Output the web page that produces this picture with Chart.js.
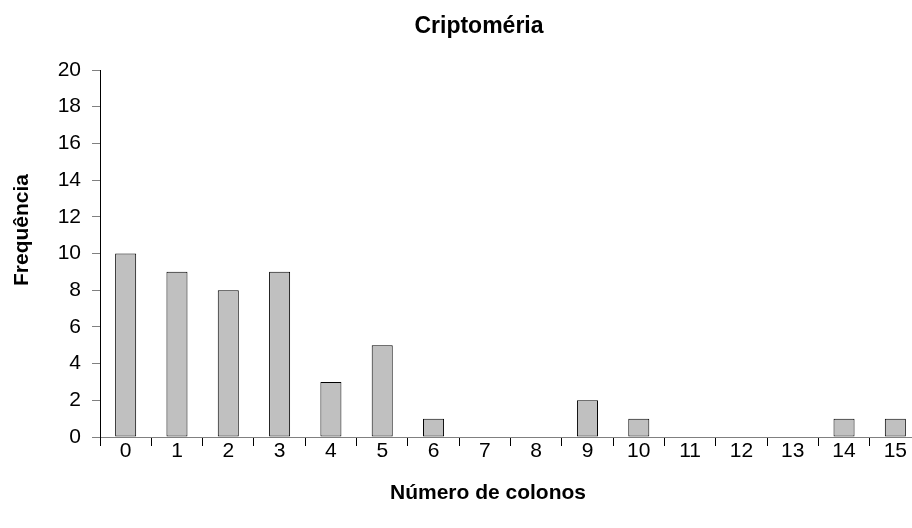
<!DOCTYPE html>
<html>
<head>
<meta charset="utf-8">
<title>Criptoméria</title>
<script src="https://cdn.jsdelivr.net/npm/chart.js@4/dist/chart.umd.min.js"></script>
<style>
  html, body { margin: 0; padding: 0; background: #fff; overflow: hidden; }
  #wrap { position: relative; width: 932px; height: 528px; }
</style>
</head>
<body>
<div id="wrap"><canvas id="freqChart"></canvas></div>
<script>
const COLONOS = ["0","1","2","3","4","5","6","7","8","9","10","11","12","13","14","15"];
const FREQUENCIA = [10, 9, 8, 9, 3, 5, 1, 0, 0, 2, 1, 0, 0, 0, 1, 1];
const Y_MIN = 0;
const Y_MAX = 20;
const Y_STEP = 2;

const X_TITLE = "Número de colonos";
const Y_TITLE = "Frequência";

const FONT = "'Liberation Sans', Arial, Helvetica, sans-serif";

// axis titles sit a bit left of / above the plot centre, so draw them by hand
const axisTitles = {
  id: "axisTitles",
  afterDraw(chart) {
    const { ctx, chartArea } = chart;
    const cx = (chartArea.left + chartArea.right) / 2;
    const cy = (chartArea.top + chartArea.bottom) / 2;
    ctx.save();
    ctx.font = "bold 21px " + FONT;
    ctx.fillStyle = "#000";
    ctx.textAlign = "center";
    ctx.textBaseline = "middle";
    ctx.fillText(X_TITLE, cx - 22.5, chartArea.bottom + 56);
    ctx.translate(22, cy - 23.5);
    ctx.rotate(-Math.PI / 2);
    ctx.fillText(Y_TITLE, 0, 0);
    ctx.restore();
  }
};

new Chart(document.getElementById("freqChart"), {
  type: "bar",
  data: {
    labels: COLONOS,
    datasets: [{
      label: Y_TITLE,
      data: FREQUENCIA,
      backgroundColor: "#c0c0c0",
      borderColor: "#000",
      borderWidth: 1,
      borderSkipped: false,
      barPercentage: 0.41,
      categoryPercentage: 1.0
    }]
  },
  options: {
    responsive: true,
    maintainAspectRatio: false,
    animation: false,
    layout: { padding: { left: 37, right: 11, top: 0, bottom: 0 } },
    plugins: {
      legend: { display: false },
      tooltip: { enabled: false },
      title: {
        display: true,
        text: "Criptoméria",
        color: "#000",
        font: { family: FONT, size: 23, weight: "bold", lineHeight: 1.2 },
        padding: { top: 13, bottom: 29.4 }
      }
    },
    scales: {
      x: {
        offset: true,
        afterFit(scale) { scale.height = 91; },
        grid: {
          offset: true,
          drawOnChartArea: false,
          drawTicks: true,
          tickLength: 9,
          color: "#000"
        },
        border: { display: true, color: "#808080", width: 1 },
        ticks: {
          color: "#000",
          padding: -5.5,
          maxRotation: 0,
          autoSkip: false,
          font: { family: FONT, size: 21, lineHeight: 1 }
        }
      },
      y: {
        min: Y_MIN,
        max: Y_MAX,
        afterFit(scale) { scale.width = 63; },
        grid: {
          drawOnChartArea: false,
          drawTicks: true,
          tickLength: 8,
          color: "#808080"
        },
        border: { display: true, color: "#000", width: 1 },
        ticks: {
          stepSize: Y_STEP,
          color: "#000",
          padding: 11,
          font: { family: FONT, size: 21 }
        }
      }
    }
  },
  plugins: [axisTitles]
});
</script>
</body>
</html>
